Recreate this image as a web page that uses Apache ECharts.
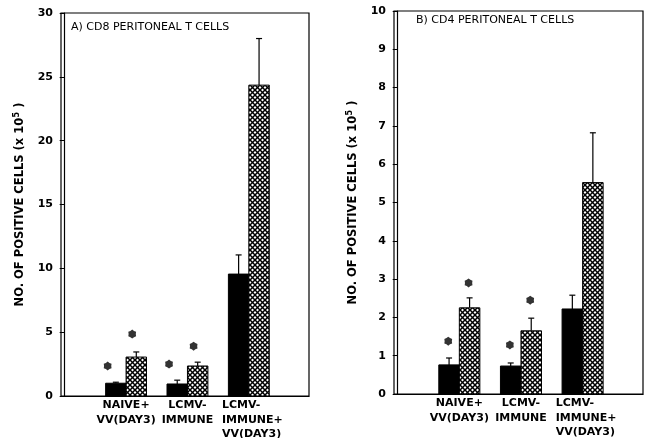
<!DOCTYPE html>
<html>
<head>
<meta charset="utf-8">
<script src="https://cdn.jsdelivr.net/npm/echarts@6/dist/echarts.min.js"></script>
<style>html,body{margin:0;padding:0;background:#fff;}#c{width:646px;height:438px;}</style>
</head>
<body>
<div id="c"></div>
<script>
// ---- data ----
const categories = ['NAIVE+\nVV(DAY3)', 'LCMV-\nIMMUNE', 'LCMV-\nIMMUNE+\nVV(DAY3)'];
const cd8Solid = [1.0, 0.94, 9.55];
const cd8SolidErr = [0.08, 0.3, 1.5];
const cd8Hatched = [3.05, 2.35, 24.35];
const cd8HatchedErr = [0.4, 0.3, 3.65];
const cd4Solid = [0.76, 0.73, 2.22];
const cd4SolidErr = [0.18, 0.08, 0.36];
const cd4Hatched = [2.25, 1.65, 5.52];
const cd4HatchedErr = [0.26, 0.33, 1.3];
const cd8SolidStar = [2.35, 2.5];
const cd8HatchedStar = [4.85, 3.9];
const cd4SolidStar = [1.38, 1.28];
const cd4HatchedStar = [2.9, 2.45];
const cd8Ticks = [0, 30, 5];
const cd4Ticks = [0, 10, 1];
const titleA = 'A) CD8 PERITONEAL T CELLS';
const titleB = 'B) CD4 PERITONEAL T CELLS';
const yNameMain = 'NO. OF POSITIVE CELLS (x 10';
const yNameSup = '5';
const yNameEnd = ' )';

// ---- styles ----
const FONT = 'DejaVu Sans';
const BAR_W = 0.333;

function makeHatch() {
  const c = document.createElement('canvas');
  c.width = 10; c.height = 10;
  const ctx = c.getContext('2d');
  ctx.fillStyle = '#fff'; ctx.fillRect(0, 0, 10, 10);
  ctx.strokeStyle = '#000'; ctx.lineWidth = 1.5;
  for (let k = -10; k <= 20; k += 5) {
    ctx.beginPath(); ctx.moveTo(k, 0); ctx.lineTo(k + 10, 10); ctx.stroke();
    ctx.beginPath(); ctx.moveTo(k, 10); ctx.lineTo(k + 10, 0); ctx.stroke();
  }
  return c;
}
const hatch = { image: makeHatch(), repeat: 'repeat' };

function starPath(n, rOut, rIn) {
  let d = '';
  for (let i = 0; i < 2 * n; i++) {
    const r = i % 2 ? rIn : rOut;
    const a = -Math.PI / 2 + i * Math.PI / n;
    d += (i ? 'L' : 'M') + (r * Math.cos(a)).toFixed(3) + ' ' + (r * Math.sin(a)).toFixed(3);
  }
  return 'path://' + d + 'Z';
}
const STAR = starPath(6, 1, 0.8);

function barRender(kind) {
  return function (params, api) {
    const g = api.value(0), v = api.value(1), e = api.value(2);
    const x0 = kind === 'solid' ? g - BAR_W : g;
    const p0 = api.coord([x0, 0]);
    const p1 = api.coord([x0 + BAR_W, v]);
    const cx = (p0[0] + p1[0]) / 2;
    const pe = api.coord([g, v + e]);
    return {
      type: 'group',
      children: [
        { type: 'line', shape: { x1: cx, y1: p1[1], x2: cx, y2: pe[1] }, style: { stroke: '#000', lineWidth: 1.2 } },
        { type: 'line', shape: { x1: cx - 3, y1: pe[1], x2: cx + 3, y2: pe[1] }, style: { stroke: '#000', lineWidth: 1.2 } },
        { type: 'rect', shape: { x: p0[0], y: p1[1], width: p1[0] - p0[0], height: p0[1] - p1[1] },
          style: { fill: kind === 'solid' ? '#000' : hatch, stroke: '#000', lineWidth: 1 } }
      ]
    };
  };
}

function barData(vals, errs) { return vals.map((v, i) => [i + 1, v, errs[i]]); }
function starData(vals, off) { return vals.map((v, i) => [i + 1 + off, v]); }

const LBL = { fontFamily: FONT, fontWeight: 'bold', fontSize: 11, color: '#000', lineHeight: 14.5 };

function xAxis(idx) {
  return {
    type: 'value', gridIndex: idx, min: -0.06, max: 3.98,
    splitLine: { show: false }, axisTick: { show: false },
    axisLine: { show: true, lineStyle: { color: '#000', width: 1.2 } },
    axisLabel: Object.assign({
      customValues: [1, 2, 3],
      hideOverlap: false,
      formatter: v => {
        const i = Math.round(v) - 1;
        const s = categories[i] || '';
        if (i === 2) return s.split('\n').map(l => '{g3|' + l + '}').join('\n');
        return s;
      },
      margin: 2,
      rich: { g3: Object.assign({ align: 'left', padding: [0, 0, 0, 7] }, LBL) }
    }, LBL)
  };
}
function yAxis(idx, t) {
  return {
    type: 'value', gridIndex: idx, min: t[0], max: t[1], interval: t[2],
    name: yNameMain + '{sup|' + yNameSup + '}' + yNameEnd, nameLocation: 'middle', nameGap: 33,
    nameTextStyle: {
      fontFamily: FONT, fontWeight: 'bold', fontSize: 11.5, color: '#000', lineHeight: 16,
      rich: {
        sup: { fontFamily: FONT, fontWeight: 'bold', fontSize: 8.5, color: '#000', verticalAlign: 'top', lineHeight: 16 }
      }
    },
    splitLine: { show: false },
    axisLine: { show: true, lineStyle: { color: '#000', width: 1.2 } },
    axisTick: { show: true, length: 5, lineStyle: { color: '#000' } },
    axisLabel: { fontFamily: FONT, fontWeight: 'bold', fontSize: 11, color: '#000', margin: 8 }
  };
}

const TSTYLE = { fontFamily: FONT, fontSize: 11, fontWeight: 'normal', color: '#000' };
const chart = echarts.init(document.getElementById('c'), null, { renderer: 'canvas' });
chart.setOption({
  animation: false,
  backgroundColor: '#fff',
  title: [
    { text: titleA, left: 71, top: 22, padding: 0, textStyle: TSTYLE },
    { text: titleB, left: 416, top: 15, padding: 0, textStyle: TSTYLE }
  ],
  grid: [
    { left: 61, top: 13, width: 248, height: 383, outerBoundsMode: 'none', containLabel: false,
      show: true, borderColor: '#000', borderWidth: 1.2, backgroundColor: 'transparent' },
    { left: 394, top: 11, width: 249, height: 383, outerBoundsMode: 'none', containLabel: false,
      show: true, borderColor: '#000', borderWidth: 1.2, backgroundColor: 'transparent' }
  ],
  xAxis: [xAxis(0), xAxis(1)],
  yAxis: [yAxis(0, cd8Ticks), yAxis(1, cd4Ticks)],
  series: [
    { type: 'custom', xAxisIndex: 0, yAxisIndex: 0, renderItem: barRender('solid'), data: barData(cd8Solid, cd8SolidErr) },
    { type: 'custom', xAxisIndex: 0, yAxisIndex: 0, renderItem: barRender('hatched'), data: barData(cd8Hatched, cd8HatchedErr) },
    { type: 'custom', xAxisIndex: 1, yAxisIndex: 1, renderItem: barRender('solid'), data: barData(cd4Solid, cd4SolidErr) },
    { type: 'custom', xAxisIndex: 1, yAxisIndex: 1, renderItem: barRender('hatched'), data: barData(cd4Hatched, cd4HatchedErr) },
    { type: 'scatter', xAxisIndex: 0, yAxisIndex: 0, symbol: STAR, symbolSize: 9, symbolKeepAspect: true, itemStyle: { color: '#000' },
      data: starData(cd8SolidStar, -0.3).concat(starData(cd8HatchedStar, 0.1)) },
    { type: 'scatter', xAxisIndex: 1, yAxisIndex: 1, symbol: STAR, symbolSize: 9, symbolKeepAspect: true, itemStyle: { color: '#000' },
      data: starData(cd4SolidStar, -0.18).concat(starData(cd4HatchedStar, 0.15)) }
  ]
});
</script>
</body>
</html>
